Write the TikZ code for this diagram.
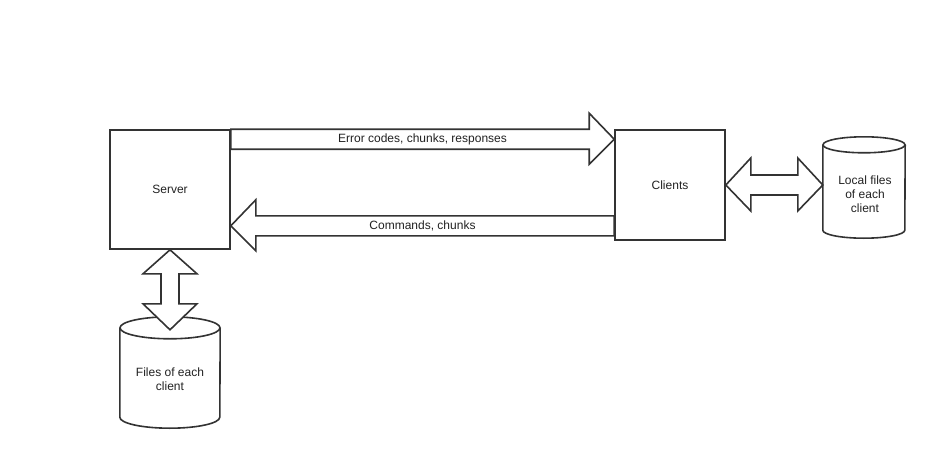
\documentclass[tikz,border=0pt]{standalone}
\usepackage{fontspec}
\setmainfont{Liberation Sans}
\usetikzlibrary{calc}
\definecolor{lc}{HTML}{333333}
\definecolor{tc}{HTML}{222222}
\begin{document}
\begin{tikzpicture}[x=1pt,y=-1pt,
  every node/.style={font=\fontsize{12}{14}\selectfont, text=tc, align=center, inner sep=0pt},
  line/.style={draw=lc, line width=1.6pt, line join=miter},
  box/.style={line, fill=white},
  arr/.style={line, fill=white}]
\useasboundingbox (0,0) rectangle (930,450);
% boxes
\node[box, minimum width=120pt, minimum height=119pt] (srv) at (170,189.5) {Server};
\node[box, minimum width=110pt, minimum height=110pt] (cli) at (670,185) {Clients};
% cylinders (area nodes)
\node[minimum width=100pt, minimum height=111pt] (dbl) at (170,372.5) {};
\node[minimum width=82pt, minimum height=101pt] (dbr) at (864,187.5) {};
\draw[line, fill=white] ($(dbl.north west)+(0,11)$) -- ($(dbl.south west)+(0,-11)$)
  arc[start angle=180, end angle=0, x radius=50, y radius=11] -- ($(dbl.north east)+(0,11)$);
\draw[line] ($(dbl.north)+(0,11)$) ellipse[x radius=50, y radius=11];
\draw[line, fill=white] ($(dbr.north west)+(0,8)$) -- ($(dbr.south west)+(0,-8)$)
  arc[start angle=180, end angle=0, x radius=41, y radius=8] -- ($(dbr.north east)+(0,8)$);
\draw[line] ($(dbr.north)+(0,8)$) ellipse[x radius=41, y radius=8];
\node (dbltxt) at (170,379) {Files of each\\client};
\node (dbrtxt) at (865,194) {Local files\\of each\\client};
% top arrow server -> clients
\draw[arr] (srv.north east) -- ($(cli.north west)+(-25,0)$) -- ($(cli.north west)+(-25,-16)$)
  -- ($(cli.north west)+(0,10)$) -- ($(cli.north west)+(-25,35)$) -- ($(cli.north west)+(-25,20)$)
  -- ($(srv.north east)+(0,20)$) -- cycle;
\node (l1) at ($(srv.north east)!0.5!(cli.north west)+(0,10)$) {Error codes, chunks, responses};
% bottom arrow clients -> server
\draw[arr] ($(cli.south west)+(0,-25)$) -- ($(srv.south east)+(25,-34)$) -- ($(srv.south east)+(25,-50)$)
  -- ($(srv.south east)+(0,-24)$) -- ($(srv.south east)+(25,1)$) -- ($(srv.south east)+(25,-14)$)
  -- ($(cli.south west)+(0,-5)$) -- cycle;
\node (l2) at ($(srv.south east)!0.5!(cli.south west)+(0,-19.5)$) {Commands, chunks};
% right double arrow clients <-> local files
\coordinate (rt) at (dbr.west |- cli.east);
\draw[arr] (cli.east) -- ($(cli.east)+(25,-27)$) -- ($(cli.east)+(25,-10)$)
  -- ($(rt)+(-25,-10)$) -- ($(rt)+(-25,-27)$) -- (rt) -- ($(rt)+(-25,26)$)
  -- ($(rt)+(-25,10)$) -- ($(cli.east)+(25,10)$) -- ($(cli.east)+(25,26)$) -- cycle;
% left double arrow server <-> files
\coordinate (lt) at ($(srv.south)+(0,80)$);
\draw[arr] (srv.south) -- ($(srv.south)+(27,24)$) -- ($(srv.south)+(9,24)$)
  -- ($(lt)+(9,-26)$) -- ($(lt)+(27,-26)$) -- (lt) -- ($(lt)+(-27,-26)$)
  -- ($(lt)+(-9,-26)$) -- ($(srv.south)+(-9,24)$) -- ($(srv.south)+(-27,24)$) -- cycle;
\end{tikzpicture}
\end{document}
